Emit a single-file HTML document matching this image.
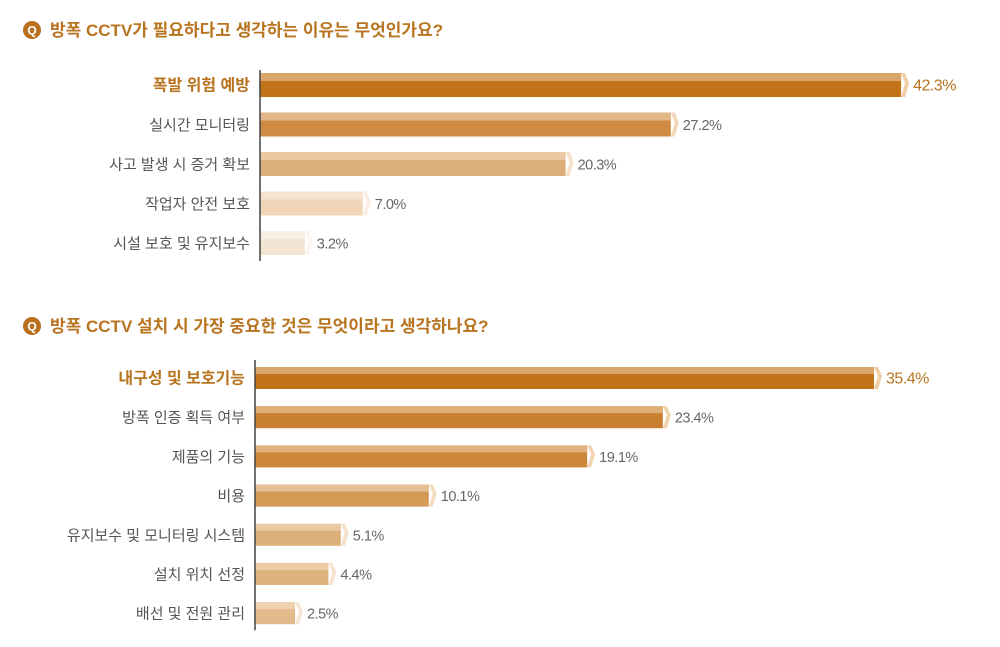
<!DOCTYPE html>
<html><head><meta charset="utf-8"><style>
body{margin:0;background:#fff;width:1000px;height:647px;overflow:hidden;font-family:"Liberation Sans","Noto Sans CJK KR",sans-serif}
svg{display:block}
</style></head><body>
<svg id="chart" width="1000" height="647" viewBox="0 0 1000 647" xmlns="http://www.w3.org/2000/svg"></svg>
<script>
const q1Title="방폭 CCTV가 필요하다고 생각하는 이유는 무엇인가요?";
const q1Categories=["폭발 위험 예방","실시간 모니터링","사고 발생 시 증거 확보","작업자 안전 보호","시설 보호 및 유지보수"];
const q1Values=[42.3,27.2,20.3,7.0,3.2];
const q2Title="방폭 CCTV 설치 시 가장 중요한 것은 무엇이라고 생각하나요?";
const q2Categories=["내구성 및 보호기능","방폭 인증 획득 여부","제품의 기능","비용","유지보수 및 모니터링 시스템","설치 위치 선정","배선 및 전원 관리"];
const q2Values=[35.4,23.4,19.1,10.1,5.1,4.4,2.5];

const NS="http://www.w3.org/2000/svg";
const svg=document.getElementById('chart');
function mk(tag,attrs,parent){const e=document.createElementNS(NS,tag);for(const k in attrs)e.setAttribute(k,attrs[k]);(parent||svg).appendChild(e);return e;}

const pal1=[["#c27418","#dba66c","#f0cfa6"],["#cf8b42","#e2b88a","#f2d8b9"],["#dcae78","#ebcaa3","#f6e2cb"],["#f0d5b8","#f6e4d0","#faeee2"],["#f4e4d3","#f9eee3","#fcf4ec"]];
const pal2=[["#c27418","#dba66c","#f0cfa6"],["#c98030","#dfaf78","#f1d3ae"],["#cc8739","#e0b380","#f1d5b2"],["#d49a55","#e6c094","#f3dcc0"],["#dcae78","#ebcaa3","#f6e2cb"],["#deb27e","#ecccA6","#f6e3cd"],["#e2ba8b","#eed2b0","#f7e6d2"]];

function drawChart(title,cats,vals,opt){
  const g=mk('g',{});
  
  
  const qc=mk('circle',{cx:32,cy:opt.titleY,r:9,fill:"#b8701c"},g);
  
  
  const qt=mk('text',{x:32,y:opt.titleY+4.5,'text-anchor':'middle','font-size':12,'font-weight':'bold',fill:'#fff'},g);qt.textContent="Q";
  
  
  const tt=mk('text',{x:50,y:opt.titleY+6,'font-size':17,'font-weight':'bold',fill:'#b8741f'},g);tt.textContent=title;
  
  
  const x=v=>opt.axisX+v*opt.scale;
  const h=opt.barH, top=Math.round(h*0.34);
  cats.forEach((c,i)=>{
    const cy=opt.firstY+i*opt.step, y0=cy-h/2, xe=x(vals[i])-4;
    const col=opt.pal[i];
    const r1=mk('rect',{x:opt.axisX,y:y0,width:xe-opt.axisX,height:h,fill:col[0]},g);
    
    
    const r2=mk('rect',{x:opt.axisX,y:y0,width:xe-opt.axisX,height:top,fill:col[1]},g);
    
    
    const cap=mk('polygon',{points:`${xe},${y0} ${xe+4},${y0} ${xe+8},${y0+top+2} ${xe+4},${y0+h} ${xe},${y0+h} ${xe+4},${y0+top+2}`,fill:col[2]},g);
    
    
    const lab=mk('text',{x:opt.labelX,y:cy+5.5,'text-anchor':'end','font-size':i===0?16:15,'font-weight':i===0?'bold':'normal',fill:i===0?'#b8741f':'#555'},g);
    lab.textContent=c;
    
    
    const vl=mk('text',{x:xe+12,y:cy+5.5,'font-size':i===0?16:14.5,fill:i===0?'#b8741f':'#666','letter-spacing':'-0.5'},g);
    vl.textContent=vals[i].toFixed(1)+"%";
    
    
  });
  const ax=mk('line',{x1:opt.axisX,y1:opt.axisTop,x2:opt.axisX,y2:opt.firstY+(cats.length-1)*opt.step+h/2+6,stroke:'#444','stroke-width':1.5},g);
  
  
}
drawChart(q1Title,q1Categories,q1Values,{name:'chart-reasons',titleY:30,axisX:260,scale:15.25,firstY:85,step:39.5,barH:24,labelX:250,axisTop:70,pal:pal1});
drawChart(q2Title,q2Categories,q2Values,{name:'chart-importance',titleY:326,axisX:255,scale:17.6,firstY:378,step:39.2,barH:22,labelX:245,axisTop:360,pal:pal2});
</script>
</body></html>
